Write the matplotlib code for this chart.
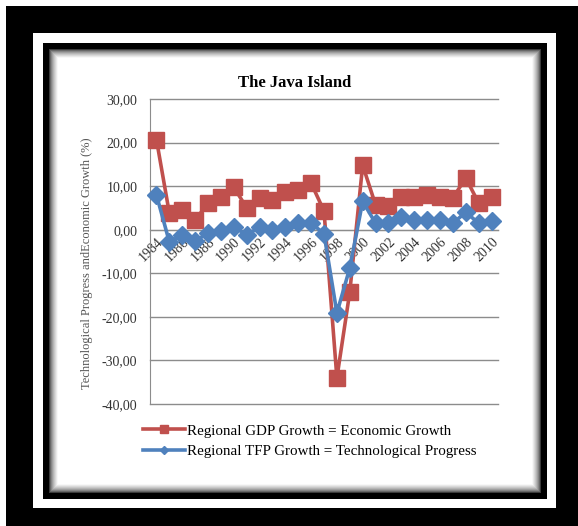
import matplotlib.pyplot as plt
import numpy as np
from matplotlib.lines import Line2D
from matplotlib.patches import Rectangle

years = list(range(1984, 2011))
gdp_growth = [20.7, 3.8, 4.5, 2.2, 6.1, 7.5, 9.8, 5.0, 7.3, 6.8, 8.7, 9.1, 10.7, 4.3,
              -34.0, -14.3, 14.8, 5.7, 5.5, 7.5, 7.5, 8.0, 7.5, 7.3, 11.9, 6.1, 7.6]
tfp_growth = [8.0, -2.8, -1.2, -2.6, -0.8, -0.4, 0.7, -1.2, 0.6, 0.0, 0.7, 1.5, 1.5, -0.9,
              -19.1, -8.8, 6.5, 1.5, 1.5, 3.0, 2.2, 2.2, 2.2, 1.5, 4.0, 1.5, 1.9]
y_ticks = [30, 20, 10, 0, -10, -20, -30, -40]

red = '#C0504D'
blue = '#4F81BD'
grid_col = '#8C8C8C'
serif = ['Liberation Serif', 'DejaVu Serif']

W, H = 578, 526
fig = plt.figure(figsize=(W / 100, H / 100), dpi=100)
fig.patch.set_facecolor('white')

# picture frame drawn in pixel coordinates on a background axes
bg = fig.add_axes([0, 0, 1, 1], zorder=-5)
bg.set_xlim(0, W)
bg.set_ylim(H, 0)
bg.axis('off')
bg.add_patch(Rectangle((6, 6), W - 6, H - 6, color='black', lw=0))
bg.add_patch(Rectangle((33, 33), 556 - 33, 508 - 33, color='white', lw=0))
bg.add_patch(Rectangle((43, 43), 547 - 43, 499 - 43, color='black', lw=0))

# white panel with soft, shadowed edges
x0, x1, y0, y1 = 48, 542, 48, 494
px = np.arange(x0, x1) + 0.5
py = np.arange(y0, y1) + 0.5
dx = np.minimum(px - x0, x1 - px)
dy = np.minimum(py - y0, y1 - py)
d = np.minimum(dx[None, :], dy[:, None])
ramp = np.clip((d - 1) / 9, 0, 1)
ramp = np.sqrt(ramp)
bg.imshow(ramp, cmap='gray', vmin=0, vmax=1, extent=(x0, x1, y1, y0),
          interpolation='bilinear', zorder=1)

ax = fig.add_axes([150 / W, 1 - 404 / H, (498 - 150) / W, (404 - 99) / H])
ax.set_facecolor('none')
xs = np.arange(len(years))

ax.plot(xs, gdp_growth, color=red, lw=2.6, marker='s', ms=11.5,
        mec=red, mfc=red, zorder=3, clip_on=False)
ax.plot(xs, tfp_growth, color=blue, lw=2.6, marker='D', ms=9,
        mec=blue, mfc=blue, zorder=4, clip_on=False)

ax.set_xlim(-0.5, len(years) - 0.5)
ax.set_ylim(-40, 30)
for v in y_ticks:
    ax.axhline(v, color=grid_col, lw=1, zorder=1, clip_on=False)

ax.set_yticks(y_ticks)
ax.set_yticklabels([f'{v:.2f}'.replace('.', ',') for v in y_ticks],
                   fontfamily=serif, fontsize=10, color='#333333')
ax.tick_params(axis='y', length=0, pad=9)

ax.spines['bottom'].set_position(('data', 0))
ax.spines['bottom'].set_color(grid_col)
ax.spines['left'].set_color(grid_col)
ax.spines['top'].set_visible(False)
ax.spines['right'].set_visible(False)

ax.set_xticks(xs[::2])
ax.set_xticklabels([str(y) for y in years[::2]], fontfamily=serif,
                   fontsize=10, color='#333333')
ax.tick_params(axis='x', length=0, pad=4)
plt.setp(ax.get_xticklabels(), rotation=45, ha='right', rotation_mode='anchor')

fig.text(295 / W, 1 - 83 / H, 'The Java Island', ha='center', va='center',
         fontfamily=serif, fontsize=12, fontweight='bold')
fig.text(87 / W, 1 - 263 / H, 'Technological Progress andEconomic Growth (%)',
         rotation=90, ha='center', va='center', fontfamily=serif,
         fontsize=9, color='#555555')

handles = [
    Line2D([], [], color=red, lw=2.6, marker='s', ms=5.5, mec=red, mfc=red),
    Line2D([], [], color=blue, lw=2.6, marker='D', ms=4, mec=blue, mfc=blue),
]
labels = ['Regional GDP Growth = Economic Growth',
          'Regional TFP Growth = Technological Progress']
fig.legend(handles, labels, loc='upper left',
           bbox_to_anchor=(143 / W, 1 - 424 / H), bbox_transform=fig.transFigure,
           frameon=False, prop={'family': serif, 'size': 10.8},
           handlelength=2.8, handletextpad=0.15, labelspacing=0.45,
           borderpad=0, borderaxespad=0)

fig.savefig('out.png', dpi=100)
